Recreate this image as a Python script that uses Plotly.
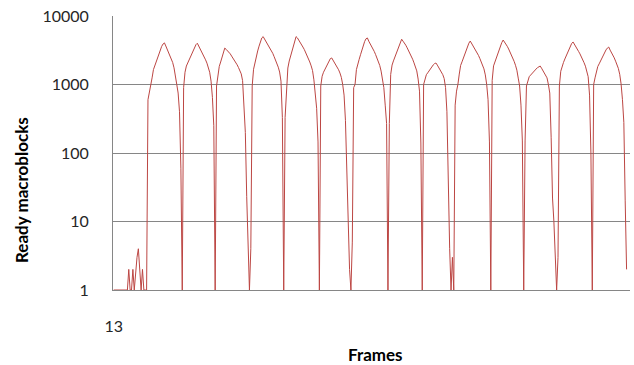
import plotly.graph_objects as go

# ---- data ----
lead_in = [1, 1, 1, 1, 1, 1, 1, 1, 1, 1, 1, 2, 1, 1, 2, 1, 2, 3, 4, 2, 1, 2, 1, 1, 1]
hump_01 = [600, 750, 900, 1250, 1650, 1900, 2150, 2500, 2900, 3250, 3600, 3900, 4050,
           3650, 3250, 2950, 2650, 2400, 2100, 1750, 1400, 1000, 750, 400, 60, 1]
hump_02 = [900, 1510, 1860, 2050, 2250, 2570, 2870, 3180, 3520, 3820, 4000,
           3660, 3380, 3110, 2820, 2590, 2290, 2050, 1810, 1510, 1120, 650, 250, 1]
hump_03 = [950, 1450, 1840, 2130, 2560, 3000, 3400, 3260, 3110, 2930, 2800, 2600, 2440,
           2270, 2100, 1940, 1770, 1610, 1430, 1140, 500, 200, 23, 4, 1, 4]
hump_04 = [950, 1670, 2130, 2510, 3090, 3630, 4270, 4780, 5000, 4630, 4350, 4070, 3700,
           3400, 3140, 2850, 2550, 2310, 2070, 1790, 1520, 1120, 330, 1, 330]
hump_05 = [1000, 1740, 2200, 2590, 3190, 3760, 4340, 5000, 4780, 4470, 4140, 3860, 3520,
           3240, 2940, 2670, 2390, 2130, 1870, 1600, 1170, 800, 450, 145, 1]
hump_06 = [950, 1320, 1510, 1650, 1860, 2030, 2240, 2390, 2440, 2260, 2100, 1960, 1810,
           1640, 1470, 1270, 1000, 700, 300, 50, 5, 2, 1, 5]
hump_07 = [900, 1000, 1650, 2050, 2330, 2720, 3240, 3720, 4240, 4650, 4780, 4290, 3970,
           3610, 3330, 3040, 2730, 2440, 2150, 1900, 1570, 1170, 900, 500, 270, 1, 270]
hump_08 = [1400, 1920, 2210, 2490, 2900, 3310, 3810, 4230, 4580, 4290, 4040, 3750, 3430,
           3130, 2890, 2600, 2340, 2070, 1860, 1580, 1200, 800, 140, 1]
hump_09 = [1000, 1250, 1390, 1480, 1590, 1690, 1810, 1930, 2020, 2060, 1920, 1780, 1660,
           1510, 1390, 1220, 900, 400, 26, 4, 1, 3, 1]
hump_10 = [500, 800, 1000, 1420, 1900, 2140, 2440, 2860, 3250, 3720, 4010, 4310, 4000,
           3730, 3460, 3170, 2900, 2660, 2400, 2170, 1930, 1690, 1380, 1000, 600, 145, 1]
hump_11 = [1150, 1870, 2150, 2460, 2850, 3210, 3670, 4090, 4460, 4210, 3900, 3610, 3300,
           2990, 2730, 2420, 2180, 1910, 1620, 1240, 950, 500, 150, 1, 150]
hump_12 = [950, 1160, 1300, 1370, 1430, 1510, 1600, 1680, 1760, 1830, 1860, 1730, 1610,
           1510, 1370, 1250, 1000, 750, 170, 22, 10, 3, 1, 3]
hump_13 = [950, 1560, 1900, 2100, 2360, 2640, 2970, 3270, 3670, 3990, 4170, 3890, 3620,
           3310, 3040, 2800, 2570, 2320, 2080, 1850, 1580, 1300, 700, 100, 1]
hump_14 = [1000, 1250, 1610, 1830, 2000, 2210, 2450, 2670, 2950, 3200, 3400, 3520, 3180,
           2940, 2670, 2450, 2190, 1960, 1720, 1410, 1020, 600, 280, 20, 2]

ready_macroblocks = (lead_in + hump_01 + hump_02 + hump_03 + hump_04 + hump_05 + hump_06 +
                     hump_07 + hump_08 + hump_09 + hump_10 + hump_11 + hump_12 + hump_13 + hump_14)
first_frame = 13
frames = list(range(first_frame, first_frame + len(ready_macroblocks)))

x_tick_values = [13]
x_tick_labels = ["13"]
y_tick_values = [1, 10, 100, 1000, 10000]
y_tick_labels = ["1", "10", "100", "1000", "10000"]

# ---- figure ----
fig = go.Figure(
    go.Scatter(
        x=frames,
        y=ready_macroblocks,
        mode="lines",
        line=dict(color="#BC4643", width=1),
        hoverinfo="skip",
        showlegend=False,
    )
)

fig.update_layout(
    width=634,
    height=365,
    margin=dict(l=113, r=4, t=16, b=75),
    paper_bgcolor="white",
    plot_bgcolor="white",
    font=dict(family="Lato, 'Open Sans', sans-serif", color="#262626"),
    showlegend=False,
)

fig.update_xaxes(
    range=[12.5, 389.5],
    tickvals=x_tick_values,
    ticktext=x_tick_labels,
    ticks="",
    showgrid=False,
    zeroline=False,
    showline=True,
    linecolor="#868686",
    linewidth=1,
    tickfont=dict(size=16, color="#262626"),
    ticklabelstandoff=22,
)

fig.update_yaxes(
    type="log",
    range=[0, 4],
    tickvals=y_tick_values,
    ticktext=y_tick_labels,
    ticks="",
    showgrid=True,
    gridcolor="#868686",
    gridwidth=1,
    zeroline=False,
    showline=True,
    linecolor="#868686",
    linewidth=1,
    tickfont=dict(size=16, color="#262626"),
    ticklabelstandoff=20,
)

fig.add_annotation(
    text="Ready macroblocks", xref="paper", yref="paper",
    x=-0.176, y=0.365, xanchor="center", yanchor="middle",
    textangle=-90, showarrow=False,
    font=dict(size=17, color="#000000", weight="bold"),
)
fig.add_annotation(
    text="Frames", xref="paper", yref="paper",
    x=0.507, y=-0.2336, xanchor="center", yanchor="middle",
    showarrow=False,
    font=dict(size=17, color="#000000", weight="bold"),
)

fig.write_html(
    "out.html",
    config={"displayModeBar": False},
    post_script="document.body.style.margin='0px';",
)
